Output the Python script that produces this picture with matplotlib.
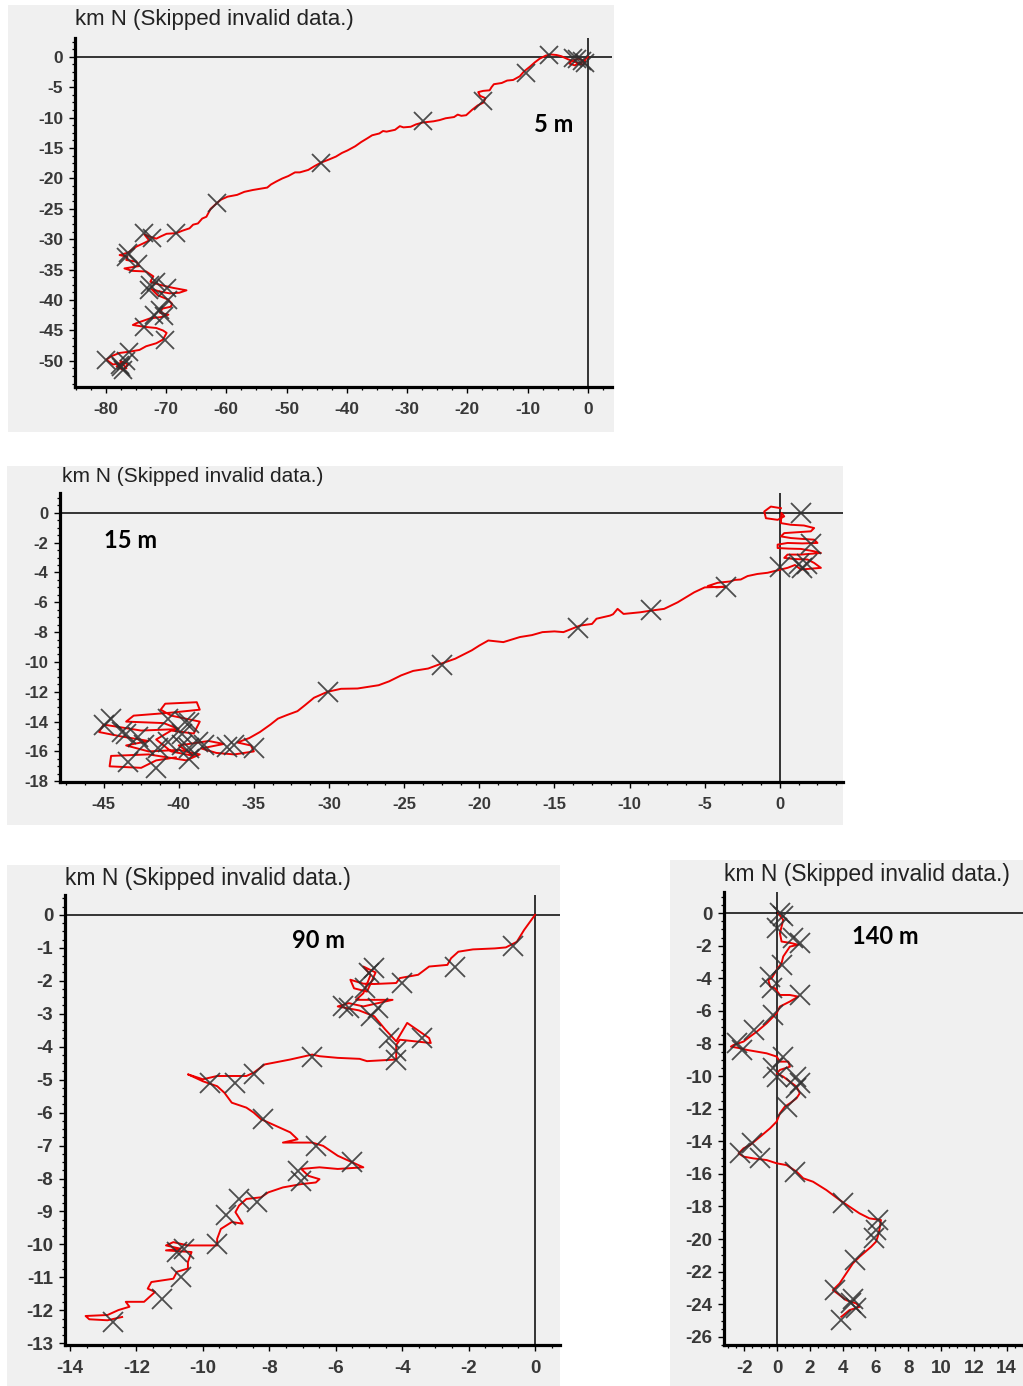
import matplotlib
matplotlib.use("Agg")
import matplotlib.pyplot as plt
from matplotlib.patches import Rectangle
from matplotlib.ticker import MultipleLocator, AutoMinorLocator

plt.rcParams['font.family'] = ['Liberation Sans', 'DejaVu Sans']
plt.rcParams['axes.unicode_minus'] = False

# ---- 5 m drifter track (km E, km N) ----
p5_track_x = [0, -0.6, -1.2, -2.2, -3.1, -2.6, -1.5, -0.4, -0.8, -2.0, -3.3, -4.4, -5.2, -6.2, -7.0, -8.0,
              -8.8, -9.6, -10.6, -11.3, -12.4, -13.4, -14.3, -15.6, -16.0, -16.3, -17.4, -18.2, -17.9, -17.0,
              -17.3, -18.3, -19.2, -20.2, -21.0, -21.6, -22.2, -23.6, -24.6, -25.6, -27.4, -28.5, -29.4, -30.6,
              -31.2, -32.0, -33.4, -34.0, -34.6, -35.8, -36.6, -37.6, -38.6, -39.9, -40.8, -41.8, -43.0, -44.3,
              -45.4, -46.4, -47.8, -48.6, -49.7, -50.7, -51.7, -52.6, -53.2, -54.4, -55.6, -57.0, -58.2, -59.8,
              -60.9, -61.6, -62.6, -63.3, -64.0, -64.7, -65.5, -66.1, -67.3, -68.3, -69.9, -70.8, -71.6, -72.6,
              -73.6, -72.8, -73.6, -74.9, -76.3, -77.7, -76.4, -76.6, -74.9, -74.4, -76.9, -75.6, -73.3, -72.1,
              -72.6, -71.0, -68.8, -66.6, -67.8, -69.4, -71.0, -72.4, -71.4, -69.7, -69.0, -69.2, -70.6, -71.0,
              -69.6, -70.8, -72.6, -74.9, -75.5, -73.6, -71.6, -70.5, -69.9, -70.5, -71.6, -73.3, -74.4, -76.1,
              -77.7, -79.0, -79.9, -78.8, -77.1, -78.2, -77.1, -76.3, -77.6, -76.6]
p5_track_y = [0, -0.6, -1.0, -1.4, -1.1, -0.6, -0.3, -0.8, -1.3, -0.9, -0.4, 0.1, 0.3, 0.4, 0.2, -0.3,
              -0.9, -1.6, -2.4, -3.2, -3.8, -3.9, -4.3, -4.5, -5.0, -5.5, -5.6, -5.8, -6.4, -6.8,
              -7.5, -8.0, -8.7, -9.6, -9.7, -9.5, -9.9, -10.1, -10.4, -10.6, -10.8, -11.1, -11.5, -11.6,
              -11.4, -12.0, -12.3, -12.2, -12.6, -12.9, -13.4, -14.0, -14.7, -15.4, -15.8, -16.4, -16.9, -17.4,
              -18.0, -18.6, -19.0, -19.0, -19.6, -20.0, -20.5, -21.0, -21.5, -21.7, -21.9, -22.2, -22.7, -23.0,
              -23.5, -24.1, -25.0, -26.3, -26.6, -27.4, -27.6, -28.2, -28.6, -29.0, -29.1, -29.5, -29.9, -29.6,
              -29.2, -30.2, -30.6, -31.2, -32.2, -32.6, -32.9, -33.4, -33.7, -34.4, -34.8, -35.2, -35.3, -36.1,
              -37.0, -37.5, -38.0, -38.4, -38.8, -38.9, -38.6, -38.2, -39.2, -39.9, -40.6, -41.1, -41.4, -42.1,
              -42.4, -42.8, -43.0, -43.8, -44.1, -44.4, -44.6, -45.0, -45.4, -46.5, -47.1, -47.6, -48.2, -48.5,
              -48.7, -49.2, -49.8, -50.6, -50.3, -50.9, -51.5, -50.6, -50.0, -51.2]
p5_fix_x = [-0.5, -1.0, -1.8, -2.5, -6.4, -10.2, -17.4, -27.4, -44.3, -61.6, -68.4, -72.3, -73.6, -76.3,
            -76.6, -74.6, -72.6, -71.6, -72.9, -69.8, -69.6, -71.0, -72.0, -70.4, -73.6, -70.2, -76.1, -79.9,
            -77.7, -76.6, -77.1, -77.5]
p5_fix_y = [-1.0, -0.7, -0.3, -0.2, 0.3, -2.7, -7.3, -10.6, -17.4, -24.1, -29.0, -29.8, -29.0, -32.3,
            -32.9, -34.0, -37.5, -37.0, -38.3, -38.0, -40.0, -41.6, -42.4, -42.6, -44.4, -46.5, -48.5, -49.8,
            -50.6, -50.0, -51.5, -51.0]

# ---- 15 m drifter track ----
p15_track_x = [0.07, -0.6, -1.04, -0.93, -0.15, 0.29, 0.1, 0.07, 0.73, 1.6, 2.28, 2.06, 1.2, 0.29, 0.07, 0.73,
               1.5, 2.28, 2.5, 1.5, 0.51, -0.15, -0.15, 0.6, 1.4, 2.28, 2.73, 2.0, 1.4, 0.51, 0.29, 1.0,
               1.84, 2.28, 2.73, 2.0, 1.4, 1.0, 0.51, 0.07, -0.37, -0.82, -1.5, -2.15, -2.6, -3.0, -3.3, -4.14,
               -4.8, -4.2, -3.6, -5.0, -5.7, -6.8, -7.7, -8.6, -9.3, -10.4, -10.8, -11.1, -11.3, -12.2,
               -12.5, -13.3, -14.4, -15.0, -15.8, -16.5, -17.3, -18.4, -19.4, -20.0, -20.5, -21.6, -22.5, -23.4,
               -24.4, -25.2, -26.0, -26.7, -28.1, -29.2, -30.1, -31.0, -31.6, -32.1, -32.8, -33.4, -33.9, -34.6,
               -35.3, -36.1, -35.2, -35.0, -36.3, -37.5, -38.5, -37.0, -38.0, -40.0, -39.0, -40.5, -41.5, -40.5,
               -39.0, -38.6, -40.5, -41.2, -40.9, -38.8, -38.6, -40.5, -43.0, -43.5, -41.0, -40.0, -42.5, -45.0,
               -45.3, -43.8, -42.0, -43.5, -42.0, -40.0, -38.6, -39.5, -42.0, -44.5, -44.6, -42.5, -41.5, -40.2]
p15_track_y = [0.31, 0.42, 0.09, -0.36, -0.47, -0.24, 0.0, -0.69, -0.8, -0.85, -1.02, -1.24, -1.3, -1.36, -1.58, -1.69,
               -1.75, -1.8, -2.02, -2.05, -2.02, -2.13, -2.36, -2.4, -2.42, -2.58, -2.69, -2.75, -2.8, -2.8, -3.02, -3.1,
               -3.13, -3.36, -3.69, -3.75, -3.8, -3.5, -3.69, -3.8, -3.91, -4.02, -4.1, -4.24, -4.47, -4.5, -4.6, -4.69,
               -4.91, -5.0, -4.95, -5.0, -5.33, -6.0, -6.44, -6.56, -6.67, -6.78, -6.44, -6.8, -6.89, -7.1,
               -7.45, -7.56, -8.0, -7.95, -8.0, -8.2, -8.33, -8.67, -8.56, -8.9, -9.22, -9.78, -10.1, -10.44,
               -10.6, -10.9, -11.3, -11.56, -11.78, -11.8, -12.0, -12.4, -12.9, -13.3, -13.56, -13.8, -14.2, -14.7,
               -15.1, -15.4, -15.6, -16.0, -16.2, -16.1, -15.8, -15.5, -15.3, -15.6, -16.3, -16.0, -15.2, -14.6,
               -14.8, -14.0, -13.6, -13.2, -12.8, -12.7, -13.2, -13.4, -13.6, -14.0, -14.1, -14.5, -14.6, -14.2,
               -14.7, -15.0, -15.3, -15.6, -16.0, -15.9, -16.2, -16.6, -16.2, -16.3, -17.0, -17.1, -16.6, -16.4]
p15_fix_x = [1.4, 2.1, 0.0, 1.3, 1.5, 1.8, -3.6, -8.6, -13.4, -22.5, -30.1, -44.5, -45.0, -43.8, -43.5, -42.7,
             -43.4, -41.5, -40.7, -39.6, -39.3, -40.7, -41.4, -39.8, -39.3, -38.7, -39.3, -38.3, -36.8, -36.3,
             -35.0, -42.3, -39.8]
p15_fix_y = [0.0, -2.1, -3.6, -3.4, -3.7, -3.4, -5.0, -6.5, -7.7, -10.2, -12.0, -13.8, -14.2, -14.7, -14.8, -15.0,
             -16.7, -17.1, -13.8, -14.0, -14.1, -15.35, -15.8, -15.6, -15.8, -15.4, -16.5, -15.6, -15.7, -15.6,
             -15.8, -15.6, -14.8]

# ---- 90 m drifter track ----
p90_track_x = [0, -0.33, -0.55, -0.88, -1.21, -1.87, -2.31, -2.53, -2.64, -3.19, -3.52, -4.07, -4.18, -4.84,
               -5.17, -5.56, -5.45, -5.06, -4.8, -5.17, -4.95, -5.17, -5.39, -4.29, -5.17, -5.61, -5.94, -5.3,
               -4.84, -4.51, -4.18, -3.85, -3.19, -3.14, -4.07, -4.18, -4.18, -5.06, -5.28, -5.94, -6.49, -6.71,
               -7.37, -8.14, -8.47, -8.69, -9.57, -10.0, -10.45, -10.0, -9.57, -9.35, -9.13, -8.69, -8.47, -8.25,
               -7.81, -7.37, -7.15, -7.59, -6.71, -6.38, -5.94, -5.39, -5.17, -5.94, -6.49, -7.04, -6.82, -6.49,
               -6.6, -7.04, -7.59, -8.03, -8.25, -8.69, -8.91, -9.02, -8.8, -9.13, -9.46, -9.57, -9.57, -10.45,
               -10.89, -11.11, -10.67, -11.11, -10.34, -10.45, -10.45, -10.78, -10.89, -11.55, -11.66, -11.44,
               -11.77, -12.32, -12.21, -12.54, -12.87, -13.53, -13.42, -12.87, -12.43]
p90_track_y = [0, -0.46, -0.82, -0.99, -1.02, -1.05, -1.12, -1.32, -1.52, -1.57, -1.82, -1.92, -2.07, -2.10,
               -2.09, -1.97, -2.23, -2.33, -1.75, -1.57, -1.82, -2.38, -2.58, -2.58, -2.78, -2.68, -2.78, -2.9,
               -3.08, -3.48, -3.84, -3.28, -3.74, -3.89, -3.79, -3.95, -4.39, -4.44, -4.37, -4.34, -4.29, -4.24,
               -4.39, -4.54, -4.79, -4.89, -4.89, -4.99, -4.84, -5.05, -5.2, -5.4, -5.7, -5.85, -6.0, -6.2,
               -6.4, -6.6, -6.81, -6.91, -6.91, -7.01, -7.31, -7.56, -7.66, -7.71, -7.66, -7.71, -7.92, -8.02,
               -8.12, -8.17, -8.27, -8.42, -8.57, -8.62, -8.82, -9.02, -9.37, -9.32, -9.53, -9.83, -10.03, -10.03,
               -9.93, -10.03, -10.13, -10.18, -10.23, -10.53, -10.73, -10.83, -11.04, -11.14, -11.34, -11.44,
               -11.74, -11.74, -11.89, -11.99, -12.14, -12.17, -12.27, -12.3, -12.2]
p90_fix_x = [-0.66, -2.42, -4.02, -4.84, -5.01, -5.12, -5.78, -5.61, -4.73, -4.95, -3.41, -4.4, -4.18, -4.18,
             -6.71, -8.47, -9.02, -9.79, -8.2, -6.6, -5.5, -7.15, -7.04, -8.36, -8.91, -9.3, -9.57, -10.56,
             -10.78, -10.67, -11.22, -12.7]
p90_fix_y = [-0.95, -1.57, -2.07, -1.62, -1.77, -2.23, -2.78, -2.83, -2.83, -3.08, -3.74, -3.74, -4.14, -4.39,
             -4.31, -4.84, -5.1, -5.1, -6.2, -7.01, -7.51, -7.76, -8.07, -8.72, -8.62, -9.12, -9.98, -10.13,
             -10.23, -10.99, -11.64, -12.35]

# ---- 140 m drifter track ----
p140_track_x = [0.08, 0.38, 0.28, 0.18, 0.28, 0.89, 1.29, 0.79, 0.38, 0.28, -0.02, -0.32, -0.53, -0.42, -0.12,
                0.18, 0.79, 1.29, 0.79, 0.18, -0.02, -0.63, -1.23, -1.64, -2.04, -2.65, -2.81, -2.24, -1.84,
                -0.63, -0.02, 0.18, 0.69, 0.79, 0.18, -0.02, 0.38, 0.79, 1.19, 1.39, 1.19, 0.79, 0.48, 0.18,
                -0.02, -0.42, -1.03, -1.64, -2.04, -2.34, -2.04, -1.43, -0.63, -0.02, 0.59, 1.19, 1.6, 2.2,
                3.01, 3.82, 4.42, 5.03, 5.64, 6.34, 6.24, 6.14, 6.04, 5.74, 5.03, 4.63, 4.22, 3.82, 3.41, 3.82,
                4.22, 4.83, 5.03, 4.42, 3.92]
p140_track_y = [0, -0.41, -0.82, -1.23, -1.74, -1.84, -1.94, -2.05, -2.66, -3.07, -3.48, -3.99, -4.09, -4.5, -4.61,
                -5.02, -5.02, -5.12, -5.42, -5.73, -6.14, -6.76, -7.27, -7.57, -7.88, -8.09, -8.19, -8.29, -8.39,
                -8.6, -8.8, -9.11, -9.11, -9.42, -9.62, -9.83, -10.03, -10.34, -10.64, -11.05, -11.36, -11.67,
                -11.87, -12.28, -12.79, -13.2, -13.72, -14.23, -14.43, -14.74, -14.94, -15.05, -15.15, -15.35,
                -15.46, -15.86, -16.27, -16.48, -16.99, -17.6, -18.01, -18.42, -18.73, -18.83, -19.45, -19.86,
                -20.16, -20.47, -21.09, -21.49, -22.11, -22.72, -23.13, -23.44, -23.75, -23.95, -24.16, -24.36,
                -24.77]
p140_fix_x = [0.18, 0.38, -0.02, 0.99, 1.39, 0.28, -0.42, -0.32, 1.39, -0.22, -1.43, -2.44, -2.14, 0.38, -0.22,
              -0.02, 1.19, 1.39, 1.19, 0.59, -1.54, -2.24, -1.03, 1.09, 4.02, 6.14, 6.04, 5.94, 4.73, 3.51, 4.63,
              4.53, 4.83, 3.92]
p140_fix_y = [0, -0.2, -0.92, -1.54, -1.84, -3.17, -3.89, -4.61, -5.02, -6.24, -7.16, -7.98, -8.39, -8.8, -9.52,
              -10.03, -10.03, -10.44, -10.75, -11.87, -14.13, -14.74, -15.05, -15.86, -17.81, -18.83, -19.45,
              -19.96, -21.29, -23.13, -23.65, -23.95, -24.26, -24.97]

title = 'km N (Skipped invalid data.)'
depth_labels = ['5 m', '15 m', '90 m', '140 m']

W, H = 1023, 1386
GRAY = '#f0f0f0'

fig = plt.figure(figsize=(W / 100, H / 100), dpi=100)
fig.patch.set_facecolor('white')


def gray_box(l, t, r, b):
    fig.add_artist(Rectangle((l / W, 1 - b / H), (r - l) / W, (b - t) / H,
                             transform=fig.transFigure, facecolor=GRAY, edgecolor='none', zorder=0))


def panel(box, xlim, ylim, xstep, ystep, tx, ty, fx, fy, title_pos, title_size, tick_size,
          label, label_pos, ms):
    l, t, r, b = box
    ax = fig.add_axes([l / W, 1 - b / H, (r - l) / W, (b - t) / H])
    ax.set_facecolor(GRAY)
    ax.set_xlim(*xlim)
    ax.set_ylim(*ylim)
    for s in ['top', 'right']:
        ax.spines[s].set_visible(False)
    for s in ['left', 'bottom']:
        ax.spines[s].set_linewidth(2.3)
        ax.spines[s].set_color('black')
    ax.axhline(0, color='black', lw=1.1, zorder=1.5)
    ax.axvline(0, color='black', lw=1.1, zorder=1.5)
    ax.plot(tx, ty, color='#ee0000', lw=1.4, zorder=2)
    ax.plot(fx, fy, 'x', color='#303030', alpha=0.85, ms=ms, mew=1.3, zorder=3)
    ax.xaxis.set_major_locator(MultipleLocator(xstep))
    ax.yaxis.set_major_locator(MultipleLocator(ystep))
    ax.xaxis.set_minor_locator(AutoMinorLocator(4))
    ax.yaxis.set_minor_locator(AutoMinorLocator(4))
    ax.tick_params(which='major', direction='out', length=4.5, width=1, colors='black',
                   labelsize=tick_size, labelcolor='#383838')
    ax.tick_params(which='minor', direction='out', length=2.5, width=0.9, colors='black')
    ax.tick_params(axis='x', which='major', pad=6)
    ax.tick_params(axis='y', which='major', pad=4)
    for lab in ax.get_xticklabels() + ax.get_yticklabels():
        lab.set_fontweight('bold')
    fig.text(title_pos[0] / W, 1 - title_pos[1] / H, title, fontsize=title_size,
             color='#222222', ha='left', va='center')
    fig.text(label_pos[0] / W, 1 - label_pos[1] / H, label, fontsize=17, fontweight='bold',
             family=['Lato', 'DejaVu Sans'], color='black', ha='center', va='center')
    return ax


gray_box(8, 5, 614, 432)
gray_box(7, 466, 843, 825)
gray_box(7, 865, 560, 1386)
gray_box(670, 860, 1023, 1386)

panel((75, 38, 612, 387), (-85.1, 4.0), (-54.3, 3.1), 10, 5,
      p5_track_x, p5_track_y, p5_fix_x, p5_fix_y, (75, 20), 16, 12.5, depth_labels[0], (554, 125), 13)
panel((60, 493, 843, 782), (-47.9, 4.2), (-18.05, 1.33), 5, 2,
      p15_track_x, p15_track_y, p15_fix_x, p15_fix_y, (62, 477), 15, 12, depth_labels[1], (131, 540), 14)
panel((65, 895, 560, 1345), (-14.15, 0.75), (-13.05, 0.6), 2, 1,
      p90_track_x, p90_track_y, p90_fix_x, p90_fix_y, (65, 878), 16.5, 13.5, depth_labels[2], (318, 940), 15)
panel((724, 892, 1023, 1345), (-3.23, 15.0), (-26.5, 1.3), 2, 2,
      p140_track_x, p140_track_y, p140_fix_x, p140_fix_y, (724, 874), 16.5, 13.5, depth_labels[3], (885, 937), 14)

fig.savefig('out.png', dpi=100, facecolor='white')
